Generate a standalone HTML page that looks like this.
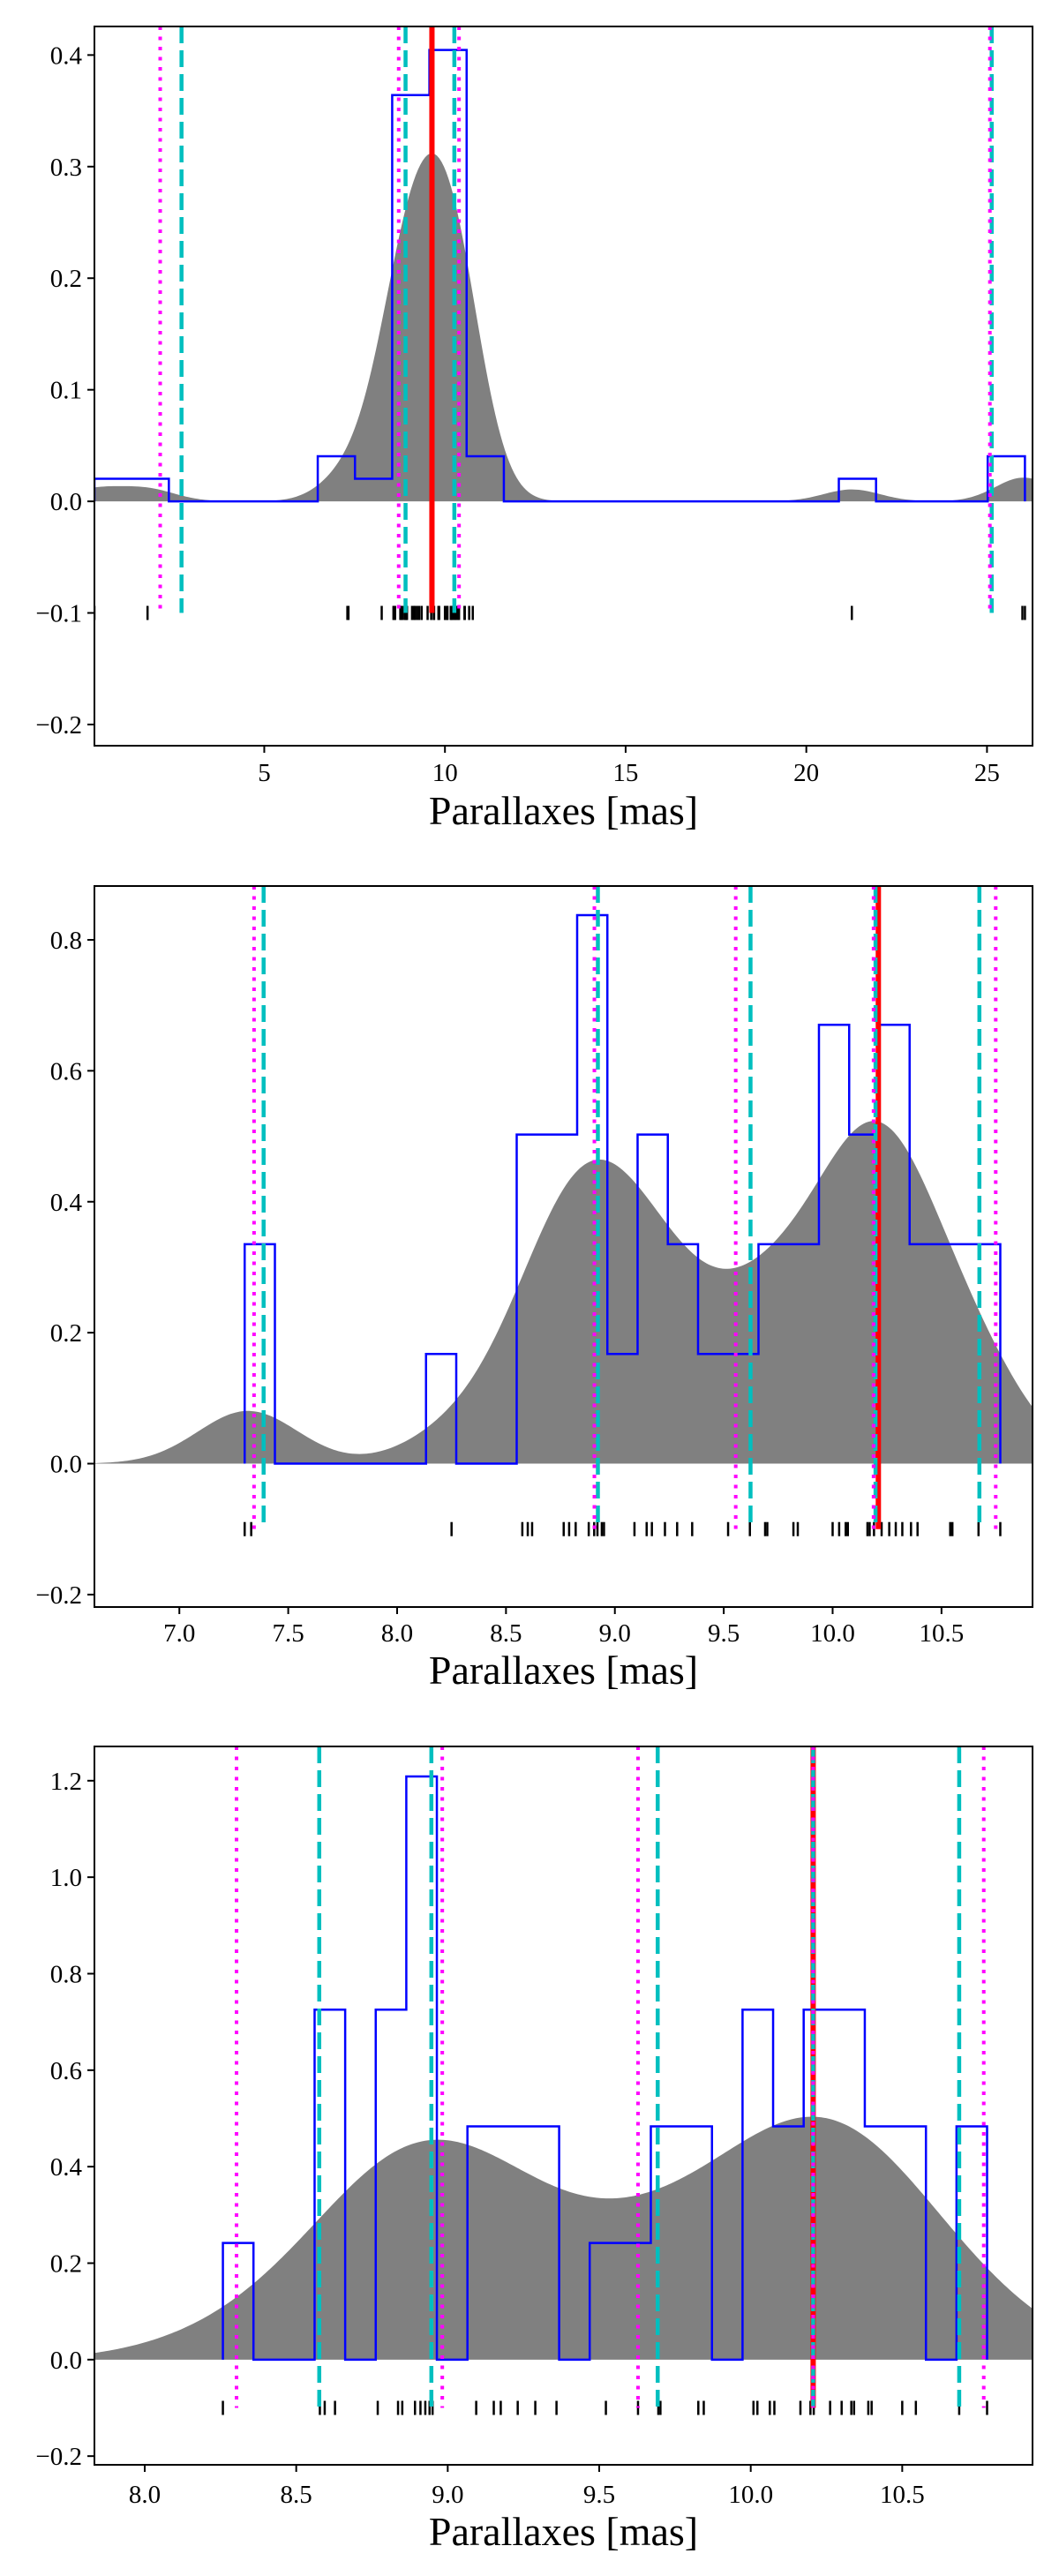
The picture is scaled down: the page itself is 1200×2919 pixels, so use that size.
<!DOCTYPE html>
<html><head><meta charset="utf-8"><style>
html,body{margin:0;padding:0;background:#fff;}
svg{display:block;}
text{font-family:"Liberation Serif","DejaVu Serif",serif;fill:#000;}
</style></head><body>
<svg id="fig" width="1200" height="2919" viewBox="0 0 1200 2919" xmlns="http://www.w3.org/2000/svg"></svg>
<script>
// ---------- Panel 1 data ----------
const rug1 = [0.30,1.77,7.30,7.33,8.25,8.575,8.60,8.62,8.765,8.79,8.82,8.88,8.905,8.92,8.94,8.95,9.09,9.146,9.17,9.23,9.286,9.355,9.52,9.62,9.69,9.70,9.82,9.84,10.00,10.03,10.06,10.07,10.16,10.17,10.19,10.225,10.26,10.29,10.32,10.36,10.39,10.54,10.55,10.67,10.77,21.26,25.98,26.05];
const magenta1 = [2.12,8.72,10.39,25.08];
const cyan1 = [2.71,8.91,10.26,25.13];
const red1 = [9.64];
const xticks1 = [5,10,15,20,25];
const xtickLabels1 = ["5","10","15","20","25"];
const yticks1 = [-0.2,-0.1,0,0.1,0.2,0.3,0.4];
const ytickLabels1 = ["\u22120.2","\u22120.1","0.0","0.1","0.2","0.3","0.4"];
// ---------- Panel 2 data ----------
const rug2 = [7.30,7.33,8.25,8.575,8.60,8.62,8.765,8.79,8.82,8.88,8.905,8.92,8.94,8.95,9.09,9.146,9.17,9.23,9.286,9.355,9.52,9.62,9.69,9.70,9.82,9.84,10.00,10.03,10.06,10.07,10.16,10.17,10.19,10.225,10.26,10.29,10.32,10.36,10.39,10.54,10.55,10.67,10.77];
const magenta2 = [7.343,8.906,9.555,10.188,10.749];
const cyan2 = [7.387,8.922,9.623,10.197,10.674];
const red2 = [10.21];
const xticks2 = [7.0,7.5,8.0,8.5,9.0,9.5,10.0,10.5];
const xtickLabels2 = ["7.0","7.5","8.0","8.5","9.0","9.5","10.0","10.5"];
const yticks2 = [-0.2,0,0.2,0.4,0.6,0.8];
const ytickLabels2 = ["\u22120.2","0.0","0.2","0.4","0.6","0.8"];
// ---------- Panel 3 data ----------
const rug3 = [8.258,8.578,8.594,8.628,8.769,8.836,8.85,8.892,8.91,8.926,8.94,8.95,9.094,9.152,9.175,9.231,9.289,9.359,9.522,9.628,9.695,9.702,9.827,9.845,10.009,10.022,10.063,10.078,10.164,10.197,10.208,10.262,10.30,10.332,10.341,10.388,10.399,10.50,10.545,10.688,10.78];
const magenta3 = [8.303,8.982,9.628,10.206,10.769];
const cyan3 = [8.576,8.946,9.693,10.206,10.688];
const red3 = [10.206];
const xticks3 = [8.0,8.5,9.0,9.5,10.0,10.5];
const xtickLabels3 = ["8.0","8.5","9.0","9.5","10.0","10.5"];
const yticks3 = [-0.2,0,0.2,0.4,0.6,0.8,1.0,1.2];
const ytickLabels3 = ["\u22120.2","0.0","0.2","0.4","0.6","0.8","1.0","1.2"];

const NS = "http://www.w3.org/2000/svg";
const fig = document.getElementById('fig');
function mk(tag, attrs, parent){
  const e = document.createElementNS(NS, tag);
  for (const k in attrs) e.setAttribute(k, attrs[k]);
  (parent||fig).appendChild(e);
  return e;
}

function panel(cfg){
  const {name, L, R, T, B, xmin, xmax, ymin, ymax, rug, bw, nbins, magenta, cyan, red, xticks, xtl, yticks, ytl, labelY, xtlY} = cfg;
  const X = v => L + (v - xmin) / (xmax - xmin) * (R - L);
  const Y = v => B - (v - ymin) / (ymax - ymin) * (B - T);
  const g = mk('g', {});
  
  
  const clipId = name + '-clip';
  const cp = mk('clipPath', {id: clipId}, g);
  mk('rect', {x: L, y: T, width: R - L, height: B - T}, cp);
  const plot = mk('g', {'clip-path': 'url(#' + clipId + ')'}, g);

  const n = rug.length;
  let d = 'M' + X(xmin) + ',' + Y(0);
  const steps = 400;
  for (let i = 0; i <= steps; i++){
    const x = xmin + (xmax - xmin) * i / steps;
    let s = 0;
    for (const r of rug){ const z = (x - r) / bw; s += Math.exp(-0.5 * z * z); }
    const dens = s / (n * bw * Math.sqrt(2 * Math.PI));
    d += ' L' + X(x).toFixed(2) + ',' + Y(dens).toFixed(2);
  }
  d += ' L' + X(xmax) + ',' + Y(0) + ' Z';
  const kde = mk('path', {d: d, fill: '#808080', stroke: 'none'}, plot);
  
  

  const lo = Math.min(...rug), hi = Math.max(...rug);
  const w = (hi - lo) / nbins;
  const counts = new Array(nbins).fill(0);
  for (const r of rug){ let k = Math.floor((r - lo) / w); if (k >= nbins) k = nbins - 1; if (k < 0) k = 0; counts[k]++; }
  let hd = 'M' + X(lo) + ',' + Y(0);
  for (let k = 0; k < nbins; k++){
    const h = counts[k] / (n * w);
    hd += ' L' + X(lo + k * w).toFixed(2) + ',' + Y(h).toFixed(2) + ' L' + X(lo + (k + 1) * w).toFixed(2) + ',' + Y(h).toFixed(2);
  }
  hd += ' L' + X(hi) + ',' + Y(0);
  const hist = mk('path', {d: hd, fill: 'none', stroke: '#0000ff', 'stroke-width': 2.5}, plot);
  
  

  for (const r of rug){
    const t = mk('line', {x1: X(r), x2: X(r), y1: Y(-0.1) - 8, y2: Y(-0.1) + 8, stroke: '#000', 'stroke-width': 2.5}, plot);
    
    
  }
  for (const v of red){
    const l = mk('line', {x1: X(v), x2: X(v), y1: T, y2: Y(-0.1), stroke: '#ff0000', 'stroke-width': 6}, plot);
    
    
  }
  for (const v of cyan){
    const l = mk('line', {x1: X(v), x2: X(v), y1: T, y2: Y(-0.1), stroke: '#00bfbf', 'stroke-width': 4.5, 'stroke-dasharray': '19,8'}, plot);
    
    
  }
  for (const v of magenta){
    const l = mk('line', {x1: X(v), x2: X(v), y1: T, y2: Y(-0.1), stroke: '#ff00ff', 'stroke-width': 4, 'stroke-dasharray': '4,7.5'}, plot);
    
    
  }

  const fr = mk('rect', {x: L, y: T, width: R - L, height: B - T, fill: 'none', stroke: '#000', 'stroke-width': 2}, g);
  
  

  xticks.forEach((v, i) => {
    mk('line', {x1: X(v), x2: X(v), y1: B, y2: B + 8, stroke: '#000', 'stroke-width': 2}, g);
    const t = mk('text', {x: X(v), y: xtlY, 'text-anchor': 'middle', 'font-size': 29}, g);
    t.textContent = xtl[i];
    
    
  });
  yticks.forEach((v, i) => {
    mk('line', {x1: L - 8, x2: L, y1: Y(v), y2: Y(v), stroke: '#000', 'stroke-width': 2}, g);
    const t = mk('text', {x: L - 14, y: Y(v) + 10, 'text-anchor': 'end', 'font-size': 29}, g);
    t.textContent = ytl[i];
    
    
  });
  const xl = mk('text', {x: (L + R) / 2, y: labelY, 'text-anchor': 'middle', 'font-size': 46}, g);
  xl.textContent = 'Parallaxes [mas]';
  
  
}

panel({name:'panel-all-parallaxes', L:107, R:1170, T:30, B:845, xmin:0.30, xmax:26.26, ymin:-0.219, ymax:0.4256,
  rug:rug1, bw:0.78, nbins:25, magenta:magenta1, cyan:cyan1, red:red1, xticks:xticks1, xtl:xtickLabels1, yticks:yticks1, ytl:ytickLabels1, labelY:934, xtlY:885});
panel({name:'panel-clipped-parallaxes', L:107, R:1170, T:1004, B:1821, xmin:6.61, xmax:10.918, ymin:-0.219, ymax:0.8822,
  rug:rug2, bw:0.23, nbins:25, magenta:magenta2, cyan:cyan2, red:red2, xticks:xticks2, xtl:xtickLabels2, yticks:yticks2, ytl:ytickLabels2, labelY:1908, xtlY:1860});
panel({name:'panel-final-parallaxes', L:107, R:1170, T:1979, B:2793, xmin:7.834, xmax:10.93, ymin:-0.218, ymax:1.271,
  rug:rug3, bw:0.28, nbins:25, magenta:magenta3, cyan:cyan3, red:red3, xticks:xticks3, xtl:xtickLabels3, yticks:yticks3, ytl:ytickLabels3, labelY:2884, xtlY:2836});
</script>
</body></html>
